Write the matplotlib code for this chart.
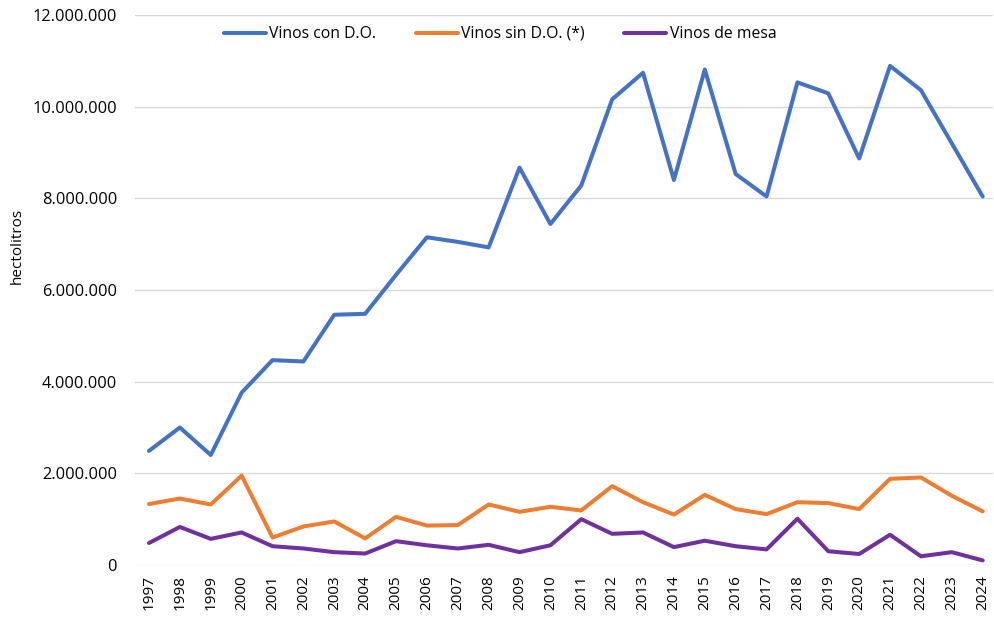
import matplotlib
matplotlib.use("Agg")
import matplotlib.pyplot as plt
from matplotlib.ticker import FuncFormatter

plt.rcParams['font.family'] = ['Open Sans', 'DejaVu Sans']

years = list(range(1997, 2025))

vinos_con_do = [2.49, 3.00, 2.40, 3.76, 4.47, 4.44, 5.46, 5.48, 6.33, 7.15,
                7.05, 6.93, 8.67, 7.44, 8.28, 10.16, 10.74, 8.40, 10.81, 8.53,
                8.04, 10.53, 10.29, 8.87, 10.89, 10.36, 9.20, 8.04]
vinos_sin_do = [1.33, 1.45, 1.32, 1.95, 0.60, 0.84, 0.95, 0.58, 1.05, 0.86,
                0.87, 1.32, 1.16, 1.27, 1.19, 1.72, 1.37, 1.10, 1.53, 1.22,
                1.11, 1.37, 1.35, 1.22, 1.88, 1.91, 1.51, 1.17]
vinos_de_mesa = [0.48, 0.83, 0.57, 0.71, 0.41, 0.36, 0.28, 0.25, 0.52, 0.43,
                 0.36, 0.44, 0.28, 0.43, 1.00, 0.68, 0.71, 0.39, 0.53, 0.41,
                 0.34, 1.01, 0.30, 0.24, 0.66, 0.19, 0.28, 0.10]

series = [
    ("Vinos con D.O.", vinos_con_do, "#4472C4"),
    ("Vinos sin D.O. (*)", vinos_sin_do, "#ED7D31"),
    ("Vinos de mesa", vinos_de_mesa, "#7030A0"),
]

W, H = 994, 618
fig = plt.figure(figsize=(W / 100, H / 100), dpi=100)
ax = fig.add_axes([135 / W, (H - 565) / H, (993 - 135) / W, (565 - 15) / H])

x = list(range(len(years)))
for label, vals, color in series:
    ax.plot(x, [v * 1e6 for v in vals], color=color, lw=2.9, label=label,
            solid_joinstyle='round', solid_capstyle='round', zorder=3)

ax.set_xlim(-0.453, 27.334)
ax.set_ylim(0, 12e6)
ax.set_yticks([i * 2e6 for i in range(7)])
ax.yaxis.set_major_formatter(FuncFormatter(lambda v, p: f"{int(v):,}".replace(",", ".")))
ax.set_xticks(x)
ax.set_xticklabels([str(y) for y in years], rotation=90)
ax.grid(axis='y', color='#D9D9D9', lw=1.0, zorder=0)
for s in ax.spines.values():
    s.set_visible(False)
ax.tick_params(axis='both', length=0, colors='#000000')
ax.tick_params(axis='y', pad=13, labelsize=11.8)
ax.tick_params(axis='x', pad=7.5, labelsize=11)

fig.text(17 / W, 1 - 246 / H, "hectolitros", rotation=90, ha='center', va='center', fontsize=11)

leg = ax.legend(loc='center', bbox_to_anchor=((500 - 135) / (993 - 135), 1 - (34 - 15) / 550),
                ncol=3, frameon=False, fontsize=11.3, handlelength=2.7,
                handletextpad=0.2, columnspacing=2.5)

fig.savefig("out.png", dpi=100, facecolor='white')
